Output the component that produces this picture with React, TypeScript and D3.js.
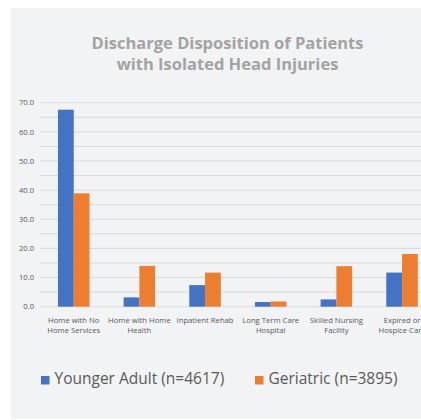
import React from "react";
import * as d3 from "d3";

const categories: string[][] = [
  ["Home with No", "Home Services"],
  ["Home with Home", "Health"],
  ["Inpatient Rehab"],
  ["Long Term Care", "Hospital"],
  ["Skilled Nursing", "Facility"],
  ["Expired or", "Hospice Care"],
];
const categoryKeys = ["c0", "c1", "c2", "c3", "c4", "c5"];
const seriesNames = ["Younger Adult (n=4617)", "Geriatric (n=3895)"];
const youngerAdult = [67.6, 3.2, 7.4, 1.6, 2.5, 11.7];
const geriatric = [38.9, 14.0, 11.7, 1.8, 13.9, 18.1];
const yTicks = [0, 10, 20, 30, 40, 50, 60, 70];
const gridTicks = [0, 5, 10, 15, 20, 25, 30, 35, 40, 45, 50, 55, 60, 65, 70];
const titleLines = ["Discharge Disposition of Patients", "with Isolated Head Injuries"];

const colors = ["#4472c4", "#ed7d31"];
const FONT = "'Open Sans', 'Noto Sans', sans-serif";

export default function App() {
  const W = 421;
  const H = 420;
  const y = d3.scaleLinear().domain([0, 70]).range([306.7, 102.7]);
  const x0 = d3
    .scaleBand<string>()
    .domain(categoryKeys)
    .range([40.9, 434.9])
    .paddingInner(0.52)
    .paddingOuter(0.26);
  const x1 = d3.scaleBand<number>().domain([0, 1]).range([0, x0.bandwidth()]);
  const series = [youngerAdult, geriatric];

  return (
    <svg
      width={W}
      height={H}
      style={{ position: "absolute", left: 0, top: 0 }}
      fontFamily={FONT}
    >
      <rect x={0} y={0} width={W} height={H} fill="#ffffff" />
      <rect x={11} y={8} width={W - 11} height={411} fill="#f2f3f5" />
      {titleLines.map((t, i) => (
        <text
          key={i}
          x={227.5}
          y={48.5 + i * 21.5}
          textAnchor="middle"
          fontSize={16.5}
          fontWeight="bold"
          fill="#a3a3a3"
        >
          {t}
        </text>
      ))}
      {gridTicks.map((t) => (
        <line
          key={t}
          x1={40}
          x2={435}
          y1={y(t)}
          y2={y(t)}
          stroke="#d9d9d9"
          strokeWidth={1}
        />
      ))}
      {yTicks.map((t) => (
        <text
          key={t}
          x={34}
          y={y(t) + 2.7}
          textAnchor="end"
          fontSize={7.6}
          fill="#595959"
        >
          {t.toFixed(1)}
        </text>
      ))}
      {categoryKeys.map((k, i) => (
        <g key={k}>
          {series.map((s, j) => (
            <rect
              key={j}
              x={(x0(k) as number) + (x1(j) as number)}
              y={y(s[i])}
              width={x1.bandwidth()}
              height={y(0) - y(s[i])}
              fill={colors[j]}
            />
          ))}
          {categories[i].map((line, li) => (
            <text
              key={li}
              x={(x0(k) as number) + x0.bandwidth() / 2}
              y={322.7 + li * 10.5}
              textAnchor="middle"
              fontSize={7.7}
              fill="#595959"
            >
              {line}
            </text>
          ))}
        </g>
      ))}
      {seriesNames.map((n, j) => {
        const lx = j === 0 ? 41 : 255;
        return (
          <g key={n}>
            <rect x={lx} y={376} width={8.5} height={8.5} fill={colors[j]} />
            <text x={lx + 13.5} y={384.3} fontSize={15.5} fill="#595959">
              {n}
            </text>
          </g>
        );
      })}
    </svg>
  );
}
